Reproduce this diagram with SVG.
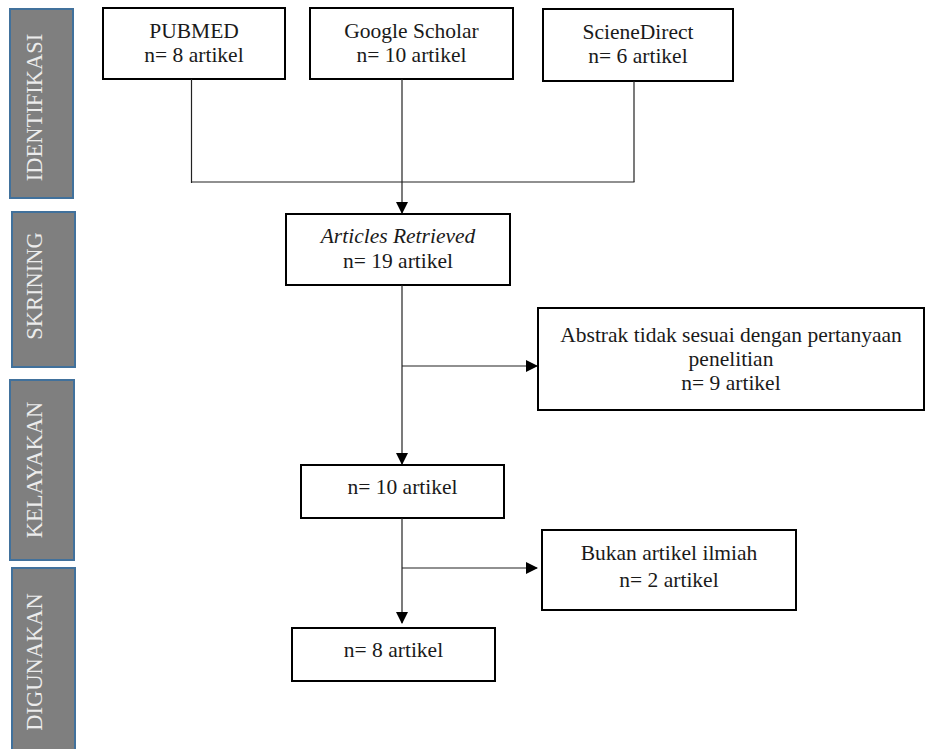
<svg xmlns="http://www.w3.org/2000/svg" width="926" height="749" viewBox="0 0 926 749">
<style>
  .bar { fill: #7f7f7f; stroke: #41719c; stroke-width: 2; }
  .bartxt { font-family: 'Liberation Serif', 'DejaVu Serif', serif; font-size: 22.5px; fill: #ececec; text-anchor: middle; }
  .box { fill: #ffffff; stroke: #000000; stroke-width: 2; }
  .lbl { font-family: 'Liberation Serif', 'DejaVu Serif', serif; font-size: 21.5px; fill: #1a1a1a; text-anchor: middle; }
  .conn { stroke: #222222; stroke-width: 1.2; fill: none; }
</style>
<defs>
  <marker id="arrow" markerWidth="12" markerHeight="12" refX="11" refY="6" orient="auto" markerUnits="userSpaceOnUse">
    <path d="M0,0 L12,6 L0,12 Z" fill="#000000"/>
  </marker>
</defs>
<rect width="926" height="749" fill="#ffffff"/>

<g id="stage-identifikasi">
  <rect class="bar" x="10" y="9" width="63" height="189"/>
  <text class="bartxt" transform="translate(42,107.5) rotate(-90)">IDENTIFIKASI</text>
</g>
<g id="stage-skrining">
  <rect class="bar" x="12" y="212" width="63" height="155"/>
  <text class="bartxt" transform="translate(42,286) rotate(-90)">SKRINING</text>
</g>
<g id="stage-kelayakan">
  <rect class="bar" x="10" y="380" width="64" height="180"/>
  <text class="bartxt" transform="translate(42,470) rotate(-90)">KELAYAKAN</text>
</g>
<g id="stage-digunakan">
  <rect class="bar" x="12" y="568" width="63" height="190"/>
  <text class="bartxt" transform="translate(42,662) rotate(-90)">DIGUNAKAN</text>
</g>

<g id="pubmed">
  <rect class="box" x="103" y="8" width="182" height="71"/>
  <text class="lbl" x="194" y="38">PUBMED</text>
  <text class="lbl" x="194" y="62">n= 8 artikel</text>
</g>
<g id="google-scholar">
  <rect class="box" x="310" y="8" width="203" height="71"/>
  <text class="lbl" x="411.5" y="38">Google Scholar</text>
  <text class="lbl" x="411.5" y="62">n= 10 artikel</text>
</g>
<g id="sciencedirect">
  <rect class="box" x="543" y="9" width="190" height="72"/>
  <text class="lbl" x="638" y="39">ScieneDirect</text>
  <text class="lbl" x="638" y="63">n= 6 artikel</text>
</g>
<g id="articles-retrieved">
  <rect class="box" x="286" y="214" width="224" height="71"/>
  <text class="lbl" x="398" y="243" font-style="italic">Articles Retrieved</text>
  <text class="lbl" x="398" y="268">n= 19 artikel</text>
</g>
<g id="abstrak-excluded">
  <rect class="box" x="538" y="308" width="386" height="102"/>
  <text class="lbl" x="731" y="342">Abstrak tidak sesuai dengan pertanyaan</text>
  <text class="lbl" x="731" y="366">penelitian</text>
  <text class="lbl" x="731" y="390">n= 9 artikel</text>
</g>
<g id="kelayakan-10">
  <rect class="box" x="301" y="465" width="203" height="53"/>
  <text class="lbl" x="402.5" y="494">n= 10 artikel</text>
</g>
<g id="bukan-ilmiah">
  <rect class="box" x="542" y="530" width="254" height="80"/>
  <text class="lbl" x="669" y="560">Bukan artikel ilmiah</text>
  <text class="lbl" x="669" y="587">n= 2 artikel</text>
</g>
<g id="digunakan-8">
  <rect class="box" x="292" y="628" width="203" height="53"/>
  <text class="lbl" x="393.5" y="657">n= 8 artikel</text>
</g>

<g id="connectors">
  <line class="conn" x1="191.5" y1="79" x2="191.5" y2="183"/>
  <line class="conn" x1="634" y1="81" x2="634" y2="182"/>
  <line class="conn" x1="191" y1="182" x2="634.5" y2="182"/>
  <line class="conn" x1="402" y1="79" x2="402" y2="213" marker-end="url(#arrow)"/>
  <line class="conn" x1="402" y1="285" x2="402" y2="464" marker-end="url(#arrow)"/>
  <line class="conn" x1="402" y1="366" x2="537" y2="366" marker-end="url(#arrow)"/>
  <line class="conn" x1="402" y1="518" x2="402" y2="623" marker-end="url(#arrow)"/>
  <line class="conn" x1="402" y1="568" x2="537" y2="568" marker-end="url(#arrow)"/>
</g>
</svg>
